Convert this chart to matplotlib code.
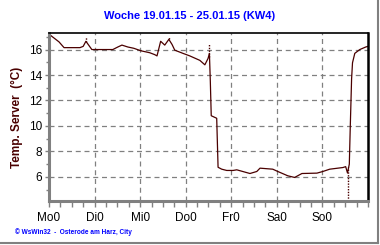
import matplotlib
matplotlib.use("Agg")
import matplotlib.pyplot as plt
from matplotlib.ticker import MultipleLocator
from matplotlib.lines import Line2D

plt.rcParams['font.family'] = ['Liberation Sans', 'DejaVu Sans']

# Tage seit Montag 0 Uhr, Temperatur Server in Grad C
days = [0.00, 0.04, 0.22, 0.33, 0.68, 0.75, 0.81, 0.88, 0.94, 1.40,
        1.51, 1.60, 1.73, 1.86, 2.02, 2.21, 2.32, 2.37, 2.45, 2.54,
        2.63, 2.70, 2.76, 2.94, 3.09, 3.31, 3.42, 3.49, 3.52, 3.54,
        3.56, 3.68, 3.71, 3.79, 3.90, 4.04, 4.12, 4.25, 4.41, 4.56,
        4.63, 4.91, 5.02, 5.24, 5.39, 5.55, 5.88, 6.01, 6.16, 6.45,
        6.51, 6.55, 6.59, 6.61, 6.64, 6.66, 6.71, 6.82, 6.95, 7.00]
temp = [17.25, 17.1, 16.6, 16.15, 16.15, 16.25, 16.65, 16.3, 16.0, 16.0,
        16.2, 16.35, 16.2, 16.1, 15.9, 15.75, 15.6, 15.5, 16.65, 16.35,
        16.8, 16.4, 15.95, 15.7, 15.5, 15.15, 14.8, 15.3, 15.7, 13.5,
        10.8, 10.6, 6.75, 6.6, 6.5, 6.5, 6.55, 6.42, 6.26, 6.42,
        6.68, 6.6, 6.42, 6.08, 5.95, 6.26, 6.29, 6.42, 6.6, 6.73,
        6.8, 6.3, 7.0, 9.8, 13.7, 14.96, 15.7, 16.0, 16.2, 16.25]

# Min/Max-Ausreisser (gepunktet)
spike_t = [0.81, 2.63, 3.52, 6.56]
spike_lo = [16.6, 16.8, 15.4, 4.1]
spike_hi = [16.95, 17.0, 16.4, 6.8]

day_labels = ["Mo0", "Di0", "Mi0", "Do0", "Fr0", "Sa0", "So0"]
y_ticks = [6, 8, 10, 12, 14, 16]

line_col = "#4a0000"

fig = plt.figure(figsize=(3.8, 2.45), dpi=100)
ax = fig.add_axes([49 / 380, 1 - 201 / 245, 319 / 380, 168 / 245])

ax.plot(days, temp, color=line_col, lw=0.9)
ax.vlines(spike_t, spike_lo, spike_hi, colors=line_col, lw=1.0, linestyles=(0, (1, 1)))

ax.set_xlim(0, 7)
ax.set_ylim(4.1, 17.3)
ax.set_xticks(range(7))
ax.set_xticklabels(day_labels)
ax.xaxis.set_minor_locator(MultipleLocator(0.25))
ax.set_yticks(y_ticks)
ax.yaxis.set_minor_locator(MultipleLocator(1))

ax.grid(True, which='major', color='#808080', ls=(0, (4, 3)), lw=0.9)
ax.tick_params(axis='both', which='both', direction='out', color='#808080',
               labelsize=8.5, width=1)
ax.tick_params(axis='x', which='major', length=4, pad=4)
ax.tick_params(axis='x', which='minor', length=4)
ax.tick_params(axis='y', which='major', length=3, pad=2)
ax.tick_params(axis='y', which='minor', length=2)

ax.spines['left'].set_color('#808080')
ax.spines['left'].set_linewidth(2.2)
ax.spines['bottom'].set_color('#808080')
ax.spines['bottom'].set_linewidth(2.2)
ax.spines['top'].set_color('black')
ax.spines['top'].set_linewidth(1.2)
ax.spines['right'].set_color('black')
ax.spines['right'].set_linewidth(1.8)

ax.set_ylabel("Temp. Server  (°C)", fontsize=8.5, fontweight='bold',
              color=line_col, labelpad=4)

fig.text(190 / 380, 1 - 16 / 245, "Woche 19.01.15 - 25.01.15 (KW4)",
         ha='center', va='center', color='#0000ff', fontsize=8, fontweight='bold')
fig.text(15 / 380, 1 - 232 / 245, "© WsWin32  -  Osterode am Harz, City",
         ha='left', va='center', color='#0000ff', fontsize=4.7, fontweight='bold')

# grauer Rahmen rechts und unten
fig.add_artist(Line2D([378 / 380, 378 / 380], [1 - 243 / 245, 1], transform=fig.transFigure,
                      color='#808080', lw=1.5))
fig.add_artist(Line2D([0, 378 / 380], [1 - 243 / 245, 1 - 243 / 245], transform=fig.transFigure,
                      color='#808080', lw=1.5))

fig.savefig("out.png", dpi=100)
